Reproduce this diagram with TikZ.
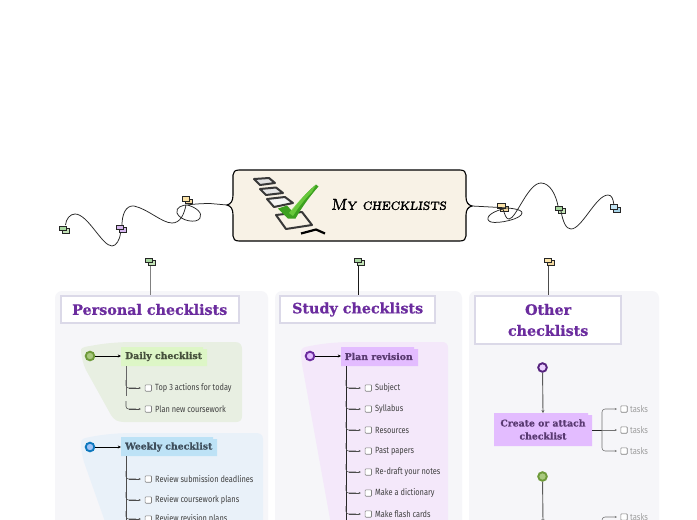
\documentclass[tikz,border=0pt]{standalone}
\usepackage{fontspec}
\usetikzlibrary{arrows.meta}
\setmainfont{Fira Sans}
\newfontfamily\slabf[FakeBold=0.6]{DejaVu Serif Bold}
\newfontfamily\narrowf[FakeStretch=0.82]{Fira Sans}
\newfontfamily\handf[FakeSlant=0.1,FakeBold=1.6]{Latin Modern Roman Caps}
\definecolor{panelc}{HTML}{F6F6F9}
\definecolor{frameC}{HTML}{DBD9E8}
\definecolor{titleC}{HTML}{6B2C9E}
\definecolor{creamC}{HTML}{F8F2E6}
\definecolor{nodeG}{HTML}{DDF6C6}
\definecolor{nodeB}{HTML}{BDE2F6}
\definecolor{nodeP}{HTML}{E3BCFF}
\definecolor{blobG}{HTML}{E8EFE2}
\definecolor{blobB}{HTML}{E9F1F9}
\definecolor{blobP}{HTML}{F4E8FA}
\definecolor{ringG}{HTML}{6E9A3A}
\definecolor{fillG}{HTML}{A9C97E}
\definecolor{ringB}{HTML}{0E78BE}
\definecolor{fillB}{HTML}{A0C4F8}
\definecolor{tagG}{HTML}{A8D8A0}
\definecolor{tagGb}{HTML}{C4E4B8}
\definecolor{tagY}{HTML}{FCE4A8}
\definecolor{tagYb}{HTML}{F2D8A0}
\definecolor{tagP}{HTML}{D8B8F0}
\definecolor{tagB}{HTML}{C4E6F6}
\definecolor{tagBb}{HTML}{A8D4E8}
\definecolor{checkD}{HTML}{3CA020}
\definecolor{checkL}{HTML}{70D040}
\definecolor{inkG}{HTML}{46503C}
\definecolor{inkB}{HTML}{3E4E5C}
\definecolor{inkP}{HTML}{5A3A72}
\tikzset{
  x=1pt,y=-1pt,
  titlebox/.style={draw=frameC,line width=2pt,fill=white,align=center,text=titleC,font=\slabf\fontsize{14.3}{21}\selectfont,inner sep=0pt,anchor=north west},
  topicname/.style={font=\slabf\fontsize{9.3}{14}\selectfont,anchor=west,inner sep=0pt,align=center},
  leaf/.style={font=\narrowf\fontsize{9}{11}\selectfont,text=black!75,anchor=west,inner sep=0pt},
  greyleaf/.style={font=\narrowf\fontsize{9.3}{11}\selectfont,text=black!38,anchor=west,inner sep=0pt},
  tick/.style={draw=black!50,line width=.6pt,fill=white,rounded corners=.8pt,minimum size=6.4pt,inner sep=0pt},
  dot/.style={circle,line width=1.9pt,minimum size=8.6pt,inner sep=0pt},
  wire/.style={line width=.75pt,black!85},
  arrowwire/.style={line width=.8pt,-{Stealth[length=3.2pt,width=3pt]}},
  smallwire/.style={line width=.55pt,black!70,-{Stealth[length=2.2pt,width=2pt]}},
  flag/.style={draw=black!85,line width=.75pt,inner sep=0pt,minimum width=7.2pt,minimum height=4.6pt},
}
% tag: name, x, y of front flag, colour, back colour
\newcommand{\tagpair}[5]{%
  \node[flag,fill=#5] (#1b) at (#2+3,#3+2.6) {};
  \node[flag,fill=#4] (#1) at (#2,#3) {};}
% coloured topic background with a folded corner
\newcommand{\foldbox}[6]{% name,x0,y0,x1,y1,colour
  \fill[#6] (#2,#3) -- (#4-4,#3) -- (#4-4,#3+2) -- (#4,#3+2) -- (#4,#5) -- (#2,#5) -- cycle;
  \coordinate (#1) at (#2,#3);}
% branch with check box: name, trunk x, y, text
\newcommand{\branch}[4]{%
  \node[tick] (#1) at (#2+22.3,#3) {};
  \node[leaf] (#1t) at (#2+29,#3) {#4};
  \draw[line width=.55pt,black!70,rounded corners=2.5pt] (#2,#3-8) -- (#2,#3) -- (#2+10,#3);
  \draw[smallwire] (#2+3,#3) -- ([xshift=-4pt]#1.west);}
\begin{document}
\begin{tikzpicture}
\useasboundingbox (0,0) rectangle (697,520);
\clip (0,0) rectangle (697,520);
\fill[white] (0,0) rectangle (697,520);
% panels
\fill[panelc,rounded corners=7pt] (55,291) rectangle (268,560);
\fill[panelc,rounded corners=7pt] (275,291) rectangle (462,560);
\fill[panelc,rounded corners=7pt] (469,291) rectangle (659,560);
% top tags and stems
\tagpair{tagA}{149}{260.5}{tagG}{tagGb}
\tagpair{tagB}{358}{260.5}{tagG}{tagGb}
\tagpair{tagC}{547.5}{260.5}{tagY}{tagYb}
\node[titlebox,minimum width=177.5pt,minimum height=27pt] (titleA) at (60,295) {Personal checklists};
\node[titlebox,minimum width=154.7pt,minimum height=27pt] (titleB) at (279.3,295) {Study checklists};
\node[titlebox,minimum width=146.3pt,minimum height=48pt] (titleC) at (474,295) {Other\\checklists};
\draw[line width=1pt,black!50] (tagAb.south -| 150,0) -- (titleA.north -| 150,0);
\draw[line width=.8pt,black!90] (tagBb.south -| 358.5,0) -- (titleB.north -| 358.5,0);
\draw[line width=.8pt,black!70] (tagCb.south -| 548.5,0) -- (titleC.north -| 548.5,0);
% blobs
\fill[blobG] (81,352) .. controls (80,348) and (83,347) .. (90,346) .. controls (105,343) and (120,342) .. (135,342) -- (235,342) .. controls (240,342) and (242,345) .. (242,349) -- (242,416) .. controls (242,420) and (240,422) .. (236,422) -- (124,422) .. controls (118,422) and (114,420) .. (111,415) -- (86,370) .. controls (83,364) and (82,358) .. (81,352) -- cycle;
\fill[blobB] (81,443) .. controls (81,439) and (84,438) .. (90,437) .. controls (105,434) and (120,433) .. (135,433) -- (256,433) .. controls (260,433) and (263,435) .. (263,439) -- (263,530) -- (108,530) -- (84,462) .. controls (82,455) and (81,449) .. (81,443) -- cycle;
\fill[blobP] (301,352) .. controls (301,348) and (304,347) .. (310,346) .. controls (325,343) and (340,342) .. (355,342) -- (442,342) .. controls (446,342) and (448,344) .. (448,348) -- (448,530) -- (332,530) -- (304,375) .. controls (302,365) and (301,358) .. (301,352) -- cycle;
% Daily
\node[dot,draw=ringG,fill=fillG] (dA) at (90,356) {};
\foldbox{nA}{121}{347}{207}{366}{nodeG}
\node[topicname,text=inkG] (nAt) at (125,356.5) {Daily checklist};
\draw[arrowwire] (dA) -- (121,356);
\branch{a1}{126}{388}{Top 3 actions for today}
\branch{a2}{126}{409}{Plan new coursework}
\draw[line width=.9pt,black!60] (126,366) -- (126,396);
% Weekly
\node[dot,draw=ringB,fill=fillB] (dB) at (90,447) {};
\foldbox{nB}{121}{437}{217}{456}{nodeB}
\node[topicname,text=inkB] (nBt) at (125,447) {Weekly checklist};
\draw[arrowwire] (dB) -- (121,447);
\draw[line width=.9pt,black!70] (126,456) -- (126,525);
\branch{b1}{126}{479}{Review submission deadlines}
\branch{b2}{126}{500}{Review coursework plans}
\branch{b3}{126}{519}{Review revision plans}
% Plan
\node[dot,draw=titleC,fill=nodeP] (dC) at (310,356) {};
\foldbox{nC}{341}{347}{418}{366}{nodeP}
\node[topicname,text=inkP] (nCt) at (344.5,356.5) {Plan revision};
\draw[arrowwire] (dC) -- (341,356);
\draw[line width=1pt,black!85] (346,366) -- (346,525);
\branch{c1}{346}{388}{Subject}
\branch{c2}{346}{409}{Syllabus}
\branch{c3}{346}{430}{Resources}
\branch{c4}{346}{451}{Past papers}
\branch{c5}{346}{472}{Re-draft your notes}
\branch{c6}{346}{493}{Make a dictionary}
\branch{c7}{346}{514}{Make flash cards}
% Other
\node[dot,draw=titleC!80!black,fill=nodeP!70!white] (dD) at (542.5,367.5) {};
\foldbox{nD}{494}{413}{592}{446}{nodeP}
\node[topicname,text=inkP,anchor=center] (nDt) at (543,429.5) {Create or attach\\[-1pt]checklist};
\draw[line width=.9pt,black!65,-{Stealth[length=3pt,width=3pt]}] (dD) -- (543,413);
\draw[line width=.8pt,black!85] (592,430) -- (602,430);
\foreach \n/\yy in {e1/409,e2/430,e3/451}{
  \node[tick] (\n) at (624,\yy) {};
  \node[greyleaf] (\n t) at (630,\yy) {tasks};
}
\draw[line width=.55pt,black!55,rounded corners=3pt,-{Stealth[length=2.2pt,width=2pt]}] (602,430) -- (602,409) -- (617,409);
\draw[line width=.55pt,black!55,rounded corners=3pt,-{Stealth[length=2.2pt,width=2pt]}] (602,430) -- (602,451) -- (617,451);
\draw[line width=.55pt,black!55,-{Stealth[length=2.2pt,width=2pt]}] (602,430) -- (617,430);
\node[dot,draw=ringG,fill=fillG] (dE) at (542.5,476.5) {};
\draw[line width=.9pt,black!65,-{Stealth[length=3pt,width=3pt]}] (dE) -- (543,522);
\node[tick] (e4) at (624,517) {};
\node[greyleaf] (e4t) at (630,517) {tasks};
\draw[line width=.55pt,black!55,rounded corners=3pt,-{Stealth[length=2.2pt,width=2pt]}] (602,530) -- (602,517) -- (617,517);
% centre box
\path[fill=creamC,draw=black,line width=1.1pt]
 (239,170) -- (460,170) .. controls (464,170) and (466,172) .. (466,175)
 -- (466,197) .. controls (466,202) and (468,205) .. (472,206) .. controls (468,207) and (466,210) .. (466,215)
 -- (466,236) .. controls (466,239) and (464,241) .. (460,241)
 -- (239,241) .. controls (235,241) and (233,239) .. (233,236)
 -- (233,215) .. controls (233,209) and (231,206) .. (227,205) .. controls (231,204) and (233,201) .. (233,195)
 -- (233,175) .. controls (233,172) and (235,170) .. (239,170) -- cycle;
\node[inner sep=0pt,anchor=west] (main) at (331,204.5) {\handf\fontsize{15.8}{20}\selectfont My checklists};
% check list icon
\begin{scope}[line width=2pt,draw=black!78,line join=round]
\draw[fill=black!12] (254,179) -- (269,178) -- (275,183) -- (260,185) -- cycle;
\draw[fill=black!10] (260,189) -- (276,187.5) -- (283,193) -- (266,195) -- cycle;
\draw[fill=black!4] (267,199) -- (285,197) -- (293,203) -- (274,207) -- cycle;
\draw[fill=creamC] (276,215) -- (302,212) -- (312,225) -- (286,229) -- cycle;
\draw[black,line width=2.2pt] (301,233.5) -- (316,229.5) -- (325,233.5);
\end{scope}
\fill[checkD] (278,208.5) -- (287,205.5) -- (292,211) .. controls (300,200) and (308,191) .. (316,184.5) -- (318.5,186.5) .. controls (310,196) and (302,207) .. (295.5,218.5) -- (288,218.5) -- cycle;
\fill[checkL,opacity=.85] (289,213) .. controls (297,203) and (306,193) .. (316,185) -- (312,192) .. controls (304,200) and (298,208) .. (293,216) -- cycle;
% curly ties
\tagpair{tL1}{185.5}{198.8}{tagY}{tagYb}
\tagpair{tL2}{120}{227.3}{tagP}{tagP}
\tagpair{tL3}{63}{228.3}{tagG}{tagGb}
\draw[wire] (227,205) -- (210,203.5) .. controls (203,203.5) and (194,204) .. (187,205)
  .. controls (196,207) and (203,213) .. (200,218) .. controls (197,224) and (180,221) .. (177,213)
  .. controls (175,207) and (184,205) .. (186,205) .. controls (184,215) and (180,223) .. (172,223)
  .. controls (162,223) and (148,209) .. (134,206) .. controls (125,205) and (122,216) .. (122,225);
\draw[wire] (tL2b.south -| 120.5,0) .. controls (120,240) and (116,246) .. (112,246)
  .. controls (102,246) and (88,214) .. (75,214) .. controls (70,214) and (66,219) .. (65.5,225);
\tagpair{tR1}{501.3}{206}{tagY}{tagYb}
\tagpair{tR2}{559}{208.5}{tagG}{tagGb}
\tagpair{tR3}{613.7}{207}{tagB}{tagBb}
\draw[wire] (472,206) -- (500,207.5) .. controls (510,208) and (522,209) .. (522,213)
  .. controls (522,219) and (498,224) .. (491,222) .. controls (485,220) and (487,213) .. (503,209)
  .. controls (505,215) and (506,219) .. (509,219) .. controls (516,219) and (528,183) .. (541,183)
  .. controls (550,183) and (556,195) .. (558,206);
\draw[wire] (tR2.south -| 561,0) .. controls (563,222) and (566,229) .. (571,229)
  .. controls (582,229) and (596,195) .. (608,195) .. controls (612,195) and (613,199) .. (614,205);
\end{tikzpicture}
\end{document}
